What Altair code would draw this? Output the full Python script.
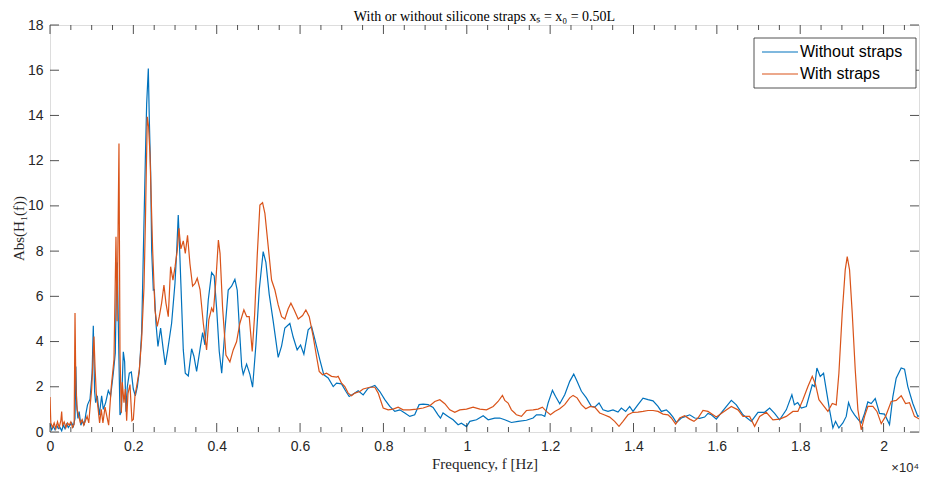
import altair as alt
import pandas as pd

# ---- data ----
freq_without = [0, 40, 80, 120, 160, 200, 240, 280, 320, 360, 400, 440, 480, 520, 560, 600, 620, 640, 670, 700, 740, 780, 820, 860, 900, 960, 1010, 1039, 1070, 1095, 1135, 1183, 1239, 1279, 1335, 1399, 1455, 1519, 1567, 1599, 1615, 1647, 1679, 1711, 1759, 1791, 1823, 1855, 1903, 1951, 1999, 2047, 2095, 2143, 2199, 2239, 2287, 2319, 2359, 2383, 2415, 2440, 2479, 2503, 2542, 2590, 2654, 2718, 2766, 2822, 2918, 2998, 3040, 3077, 3100, 3140, 3198, 3246, 3318, 3398, 3453, 3518, 3597, 3662, 3717, 3798, 3878, 3940, 4000, 4061, 4120, 4197, 4276, 4357, 4436, 4492, 4556, 4600, 4636, 4717, 4796, 4861, 4940, 5020, 5115, 5180, 5259, 5355, 5475, 5556, 5635, 5755, 5834, 5930, 6012, 6091, 6194, 6276, 6355, 6475, 6570, 6674, 6795, 6875, 6995, 7098, 7178, 7314, 7394, 7514, 7634, 7794, 7913, 8033, 8153, 8273, 8393, 8513, 8633, 8750, 8856, 8953, 9072, 9192, 9310, 9369, 9430, 9550, 9672, 9792, 9870, 9993, 10073, 10233, 10393, 10513, 10671, 10791, 10911, 11071, 11231, 11431, 11591, 11671, 11791, 11871, 11950, 12055, 12127, 12230, 12350, 12470, 12566, 12646, 12750, 12870, 12990, 13070, 13173, 13268, 13388, 13508, 13628, 13708, 13812, 13908, 13988, 14108, 14228, 14348, 14468, 14588, 14668, 14788, 14868, 14948, 15028, 15148, 15252, 15348, 15467, 15587, 15707, 15787, 15867, 15987, 16147, 16347, 16467, 16627, 16827, 16987, 17146, 17266, 17386, 17505, 17666, 17800, 17860, 17940, 18026, 18146, 18289, 18345, 18400, 18480, 18560, 18624, 18704, 18784, 18848, 18928, 19024, 19104, 19160, 19224, 19304, 19383, 19463, 19544, 19623, 19703, 19800, 19903, 20023, 20143, 20222, 20303, 20423, 20503, 20582, 20702, 20822, 20926, 21038]
abs_without = [0.35, 0.1, 0.25, 0.1, 0.3, 0.15, 0.2, 0.05, 0.3, 0.15, 0.35, 0.2, 0.3, 0.4, 0.25, 0.6, 2.9, 1.2, 0.6, 0.9, 0.3, 0.5, 0.3, 0.8, 1.2, 1.45, 2.6, 4.7, 1.8, 1.3, 1.6, 0.74, 1.6, 1.0, 1.3, 1.83, 1.6, 2.6, 3.5, 7.2, 7.5, 3.95, 0.75, 0.9, 3.55, 3.1, 0.9, 2.0, 2.6, 2.65, 1.9, 1.6, 2.0, 2.7, 4.4, 7.9, 12.0, 14.5, 16.08, 13.8, 11.5, 8.0, 6.28, 6.3, 4.81, 3.78, 4.6, 3.63, 2.97, 3.6, 4.81, 6.57, 8.0, 9.6, 8.6, 6.57, 3.63, 2.6, 2.48, 3.68, 3.35, 2.68, 3.63, 4.4, 3.85, 5.85, 7.05, 6.9, 5.4, 3.56, 2.6, 4.5, 6.28, 6.45, 6.75, 6.28, 4.22, 2.9, 2.55, 3.0, 2.55, 1.98, 3.85, 6.28, 7.98, 7.5, 6.1, 4.9, 3.3, 3.8, 4.6, 4.8, 4.2, 3.63, 3.85, 3.44, 4.52, 4.66, 4.1, 3.19, 2.53, 2.39, 2.01, 2.16, 2.13, 1.8, 1.57, 1.72, 1.82, 1.64, 1.94, 2.06, 1.79, 1.43, 1.13, 0.91, 0.98, 0.84, 0.69, 0.76, 1.21, 1.23, 1.21, 1.09, 0.76, 0.61, 0.84, 0.69, 0.54, 0.32, 0.39, 0.24, 0.47, 0.54, 0.72, 0.54, 0.61, 0.62, 0.54, 0.42, 0.47, 0.52, 0.62, 0.76, 0.76, 0.69, 1.28, 1.84, 1.58, 1.25, 1.65, 2.24, 2.56, 2.24, 1.8, 1.51, 1.13, 1.1, 1.28, 0.98, 0.91, 0.98, 0.88, 1.06, 0.91, 1.13, 0.91, 1.21, 1.5, 1.43, 1.38, 1.13, 0.91, 0.98, 0.84, 0.66, 0.42, 0.62, 0.69, 0.76, 0.62, 0.6, 0.66, 0.82, 0.76, 0.57, 0.94, 1.4, 1.2, 0.76, 0.47, 0.87, 0.87, 1.06, 0.82, 0.54, 0.98, 1.65, 1.2, 1.3, 1.06, 1.13, 2.09, 2.01, 2.83, 2.46, 2.6, 1.87, 0.98, 0.18, 0.47, 0.18, 0.4, 0.69, 1.3, 0.98, 0.76, 0.57, 0.4, 0.82, 1.33, 1.26, 1.48, 0.82, 0.79, 0.33, 1.55, 2.38, 2.83, 2.78, 2.01, 1.26, 0.69, 0.76, 1.26]

freq_with = [0, 20, 60, 100, 140, 180, 220, 260, 280, 300, 340, 380, 420, 460, 500, 540, 580, 600, 620, 650, 690, 730, 770, 810, 850, 890, 930, 970, 1000, 1055, 1080, 1110, 1150, 1190, 1230, 1270, 1320, 1407, 1470, 1535, 1583, 1610, 1655, 1679, 1711, 1735, 1775, 1807, 1839, 1871, 1919, 1966, 1999, 2039, 2095, 2143, 2199, 2255, 2290, 2310, 2335, 2366, 2398, 2463, 2518, 2574, 2622, 2678, 2734, 2782, 2838, 2894, 2950, 3000, 3054, 3094, 3140, 3198, 3246, 3300, 3357, 3421, 3480, 3533, 3600, 3678, 3757, 3810, 3878, 3920, 3981, 4040, 4080, 4141, 4221, 4316, 4396, 4476, 4556, 4652, 4720, 4780, 4852, 4910, 4972, 5036, 5100, 5156, 5236, 5316, 5396, 5475, 5556, 5635, 5715, 5780, 5860, 5955, 6060, 6139, 6220, 6315, 6395, 6459, 6540, 6635, 6755, 6875, 6914, 6995, 7074, 7154, 7234, 7314, 7434, 7514, 7674, 7794, 7874, 7994, 8113, 8233, 8353, 8473, 8633, 8793, 8953, 9113, 9233, 9353, 9473, 9592, 9712, 9832, 9993, 10153, 10313, 10473, 10633, 10751, 10855, 10911, 10991, 11071, 11151, 11191, 11311, 11431, 11591, 11711, 11814, 11910, 12007, 12110, 12230, 12350, 12470, 12550, 12646, 12750, 12854, 12965, 13069, 13189, 13308, 13428, 13548, 13652, 13748, 13868, 13988, 14108, 14228, 14348, 14468, 14588, 14708, 14828, 14908, 15012, 15108, 15228, 15348, 15451, 15547, 15667, 15787, 15907, 15987, 16147, 16347, 16507, 16627, 16786, 16906, 17026, 17186, 17345, 17505, 17666, 17825, 17944, 18064, 18185, 18289, 18369, 18449, 18544, 18664, 18769, 18864, 18928, 19008, 19080, 19128, 19184, 19248, 19320, 19384, 19464, 19544, 19623, 19743, 19840, 19944, 20048, 20183, 20303, 20423, 20527, 20622, 20742, 20862, 20958, 21038]
abs_with = [1.55, 0.4, 0.2, 0.4, 0.15, 0.45, 0.2, 0.5, 0.9, 0.3, 0.45, 0.2, 0.4, 0.3, 0.45, 0.2, 0.35, 5.26, 2.1, 1.0, 0.7, 0.4, 0.55, 0.3, 0.5, 0.7, 0.4, 1.3, 1.9, 4.22, 2.9, 1.7, 1.1, 0.4, 1.0, 0.4, 1.1, 0.3, 2.0, 3.2, 8.64, 4.9, 12.76, 3.5, 0.85, 2.2, 1.3, 1.9, 0.5, 1.7, 2.1, 0.5, 0.55, 1.6, 2.2, 2.75, 4.1, 6.4, 9.35, 11.5, 13.94, 13.5, 12.32, 8.05, 5.4, 4.67, 5.1, 5.7, 6.5, 5.7, 5.1, 7.31, 6.72, 7.3, 8.05, 9.01, 8.1, 8.45, 7.9, 8.7, 7.45, 6.45, 6.57, 6.8, 6.3, 4.81, 3.63, 4.96, 5.48, 5.3, 6.72, 8.49, 7.9, 5.5, 3.4, 3.1, 3.63, 3.99, 4.81, 5.4, 5.1, 5.1, 3.56, 5.2, 7.8, 10.04, 10.14, 9.67, 8.2, 6.72, 6.28, 5.62, 5.1, 5.0, 5.45, 5.7, 5.4, 5.0, 5.15, 5.4, 5.1, 4.22, 3.34, 2.68, 2.53, 2.6, 2.46, 2.43, 2.46, 2.16, 2.01, 1.72, 1.6, 1.72, 1.79, 1.9, 1.98, 1.98, 1.72, 1.06, 0.98, 1.01, 1.1, 0.98, 0.98, 1.01, 1.06, 1.16, 1.35, 1.43, 1.25, 0.98, 0.87, 0.98, 1.01, 1.1, 1.01, 0.98, 1.13, 1.35, 1.62, 1.4, 1.28, 0.98, 0.84, 0.76, 0.69, 0.95, 0.98, 1.01, 1.1, 0.91, 0.76, 0.91, 1.03, 1.21, 1.51, 1.62, 1.51, 1.21, 1.03, 1.13, 1.1, 0.84, 0.75, 0.66, 0.47, 0.25, 0.47, 0.76, 0.87, 0.88, 0.91, 0.95, 0.95, 0.91, 0.79, 0.76, 0.62, 0.35, 0.62, 0.72, 0.57, 0.47, 0.62, 0.95, 0.91, 0.76, 0.66, 0.87, 1.13, 0.98, 0.69, 0.69, 0.25, 0.69, 0.87, 0.54, 0.57, 0.69, 0.91, 0.91, 1.43, 2.01, 2.46, 2.09, 1.43, 1.2, 0.91, 1.26, 1.2, 2.6, 5.26, 7.17, 7.76, 7.17, 5.26, 2.75, 0.98, 0.1, 0.69, 1.13, 1.13, 0.91, 0.37, 0.69, 1.35, 1.4, 1.6, 1.26, 1.3, 0.69, 0.57, 0.4, 0.03]

series_names = ["Without straps", "With straps"]
series_colors = ["#0072BD", "#D95319"]

x_major_ticks = [0, 2000, 4000, 6000, 8000, 10000, 12000, 14000, 16000, 18000, 20000]
x_minor_ticks = [500, 1000, 1500, 2500, 3000, 3500, 4500, 5000, 5500, 6500, 7000, 7500,
                 8500, 9000, 9500, 10500, 11000, 11500, 12500, 13000, 13500, 14500,
                 15000, 15500, 16500, 17000, 17500, 18500, 19000, 19500, 20500]
y_ticks = [0, 2, 4, 6, 8, 10, 12, 14, 16, 18]
exponent_label = ["×10⁴"]

title_text = ["With or without silicone straps xₛ = x₀ = 0.50L"]
x_title = "Frequency, f [Hz]"
y_title = ["Abs(H₁(f))"]

X_MAX = 20850
W, H = 869, 407
AXIS_COLOR = "#262626"

df_without = pd.DataFrame({"f": freq_without, "v": abs_without})
df_with = pd.DataFrame({"f": freq_with, "v": abs_with})

xscale = alt.Scale(domain=[0, X_MAX], nice=False, zero=False)
yscale = alt.Scale(domain=[0, 18], nice=False)

x_axis = alt.Axis(values=x_major_ticks, title=x_title,
                  labelExpr="format(datum.value/10000, '.1~f')",
                  grid=False, ticks=False, domain=False, labelFlush=False,
                  labelFont="Liberation Sans", labelFontSize=14, labelColor=AXIS_COLOR,
                  labelPadding=7, titleFont="Liberation Serif", titleFontSize=15,
                  titleFontWeight="normal", titleColor=AXIS_COLOR, titlePadding=3)
y_axis = alt.Axis(values=y_ticks, title=None, grid=False, ticks=False, domain=False,
                  labelFlush=False,
                  labelFont="Liberation Sans", labelFontSize=14, labelColor=AXIS_COLOR,
                  labelPadding=7)

X = lambda field: alt.X(field, scale=xscale, axis=x_axis)
Y = lambda field: alt.Y(field, scale=yscale, axis=y_axis)

blue = alt.Chart(df_without).mark_line(strokeWidth=1.2, clip=True, color=series_colors[0]).encode(
    x=X("f:Q"), y=Y("v:Q"))
orange = alt.Chart(df_with).mark_line(strokeWidth=1.2, clip=True, color=series_colors[1]).encode(
    x=X("f:Q"), y=Y("v:Q"))

df_xmaj = pd.DataFrame({"f": x_major_ticks})
df_xmin = pd.DataFrame({"f": x_minor_ticks})
df_y = pd.DataFrame({"v": y_ticks})

tick_style = dict(color=AXIS_COLOR, strokeWidth=0.8)

def xticks(df, y0, y1):
    return alt.Chart(df).mark_rule(**tick_style).encode(
        x=X("f:Q"), y=alt.value(y0), y2=alt.value(y1))

def yticks(x0, x1):
    return alt.Chart(df_y).mark_rule(**tick_style).encode(
        y=Y("v:Q"), x=alt.value(x0), x2=alt.value(x1))

ticks = [
    xticks(df_xmaj, H, H - 9), xticks(df_xmaj, 0, 9),
    xticks(df_xmin, H, H - 5), xticks(df_xmin, 0, 5),
    yticks(0, 9), yticks(W, W - 9),
]

# ---- legend (drawn as marks, MATLAB style) ----
LX0, LX1, LY0, LY1 = 704, 866, 13, 63
row_y = [27, 49]
legend_box = alt.Chart(pd.DataFrame({"k": [0]})).mark_rect(
    fill="white", stroke=AXIS_COLOR, strokeWidth=0.8).encode(
    x=alt.value(LX0), x2=alt.value(LX1), y=alt.value(LY0), y2=alt.value(LY1))
legend_layers = [legend_box]
for name, col, ry in zip(series_names, series_colors, row_y):
    d = pd.DataFrame({"name": [name]})
    legend_layers.append(alt.Chart(d).mark_rule(color=col, strokeWidth=1.2).encode(
        x=alt.value(712), x2=alt.value(748), y=alt.value(ry)))
    legend_layers.append(alt.Chart(d).mark_text(
        align="left", baseline="middle", font="Liberation Sans", fontSize=16,
        color="black").encode(text="name:N", x=alt.value(750), y=alt.value(ry)))

exp_text = alt.Chart(pd.DataFrame({"t": exponent_label})).mark_text(
    align="right", baseline="alphabetic", font="Liberation Sans", fontSize=13,
    color=AXIS_COLOR).encode(text="t:N", x=alt.value(W), y=alt.value(H + 40))

title_mark = alt.Chart(pd.DataFrame({"t": title_text})).mark_text(
    align="center", baseline="alphabetic", font="Liberation Serif", fontSize=14,
    color="black").encode(text="t:N", x=alt.value(W / 2), y=alt.value(-4))

ytitle_mark = alt.Chart(pd.DataFrame({"t": y_title})).mark_text(
    align="center", baseline="middle", angle=270, font="Liberation Serif", fontSize=15,
    color=AXIS_COLOR).encode(text="t:N", x=alt.value(-31), y=alt.value(H / 2))

chart = alt.layer(blue, orange, *ticks, *legend_layers, exp_text, title_mark, ytitle_mark).properties(
    width=W, height=H,
    autosize=alt.AutoSizeParams(type="none"),
    padding={"left": 42, "top": 17, "right": 1, "bottom": 42},
).configure_view(stroke=AXIS_COLOR, strokeWidth=1).configure(background="white")

chart.save("out.html", embed_options={"renderer": "svg", "actions": False})
